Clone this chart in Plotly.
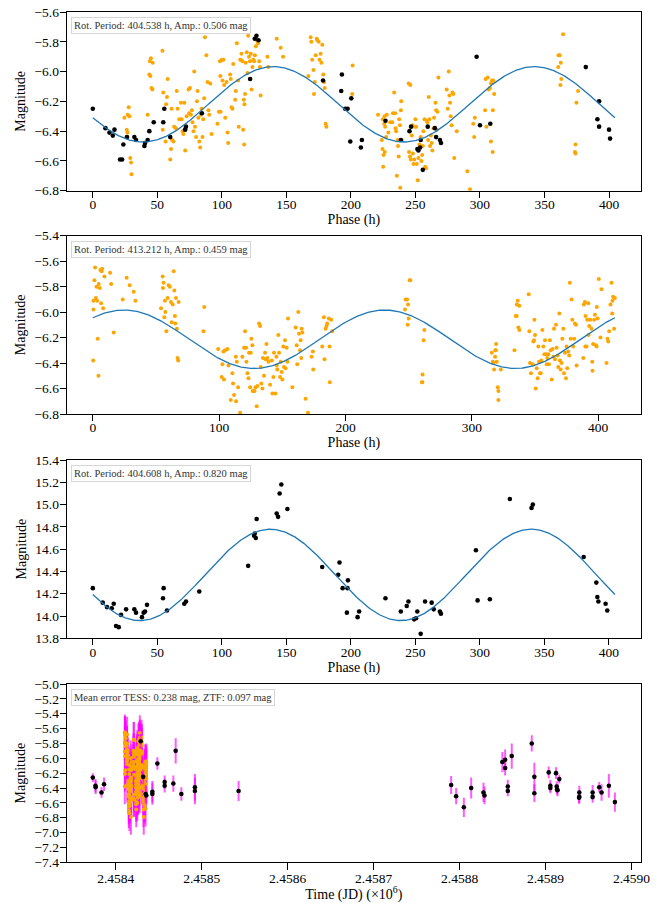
import numpy as np
import plotly.graph_objects as go

# ---------------------------------------------------------------- data ---
# Panel 1: TESS photometry folded on 404.538 h
p1_tess_phase = [
    24.5, 27.8, 27.0, 28.4, 26.3, 26.8, 26.0, 29.0, 29.6, 30.0,
    42.5, 43.8, 44.6, 45.0, 44.2, 46.4, 45.5, 46.2,
    54.0, 54.2, 56.4, 54.6, 58.0, 57.5, 56.8, 60.0, 60.6, 61.5, 62.5, 61.0,
    63.0, 64.4, 65.0, 65.7, 67.0, 68.3, 68.8, 69.6, 70.2, 70.9,
    71.6, 72.0, 72.7, 74.2, 74.6, 75.3, 76.0, 76.8, 77.3, 78.0,
    78.6, 79.2, 80.0, 80.7, 81.2, 81.8, 82.5, 83.2, 83.8, 84.3,
    85.0, 85.6, 86.3, 86.9, 88.0, 88.9, 89.6, 90.2, 91.0, 92.0,
    96.6, 97.7, 98.5, 98.8, 99.0, 100.0, 100.5, 101.2, 101.8, 102.6,
    103.6, 104.4, 104.9, 106.4, 106.9, 107.5, 108.2, 108.8, 110.3, 110.8,
    111.6, 112.6, 113.1, 114.2, 114.7, 115.2, 116.0, 116.5, 117.0, 117.5,
    118.0, 117.3, 118.5, 119.3, 119.8, 120.4, 121.0, 121.7, 122.4, 123.0,
    123.7, 124.4, 125.0, 125.6, 126.3, 127.0, 128.0, 128.9, 129.5, 130.0,
    135.3, 136.0, 142.5, 145.6, 147.4,
    167.0, 168.8, 169.3, 170.0, 171.0, 171.4, 172.0, 172.7, 173.5, 174.0,
    175.0, 175.6, 176.5, 177.1, 177.8, 178.6, 179.2, 180.4, 181.0, 179.7,
    201.3, 201.0, 221.0, 224.7, 225.8, 226.5, 226.0, 227.8, 229.0, 230.4,
    232.0, 224.0, 224.5, 225.3, 225.0, 226.2, 227.3, 232.5, 233.5, 234.3,
    234.6, 235.0, 235.6, 236.3, 236.5, 237.0, 237.4, 238.0, 238.2, 238.7,
    239.0, 239.4, 244.8, 246.0, 245.0, 245.8, 246.4, 247.2, 247.7, 248.0,
    248.5, 249.0, 249.5, 250.0, 250.5, 251.0, 251.8, 252.3, 253.0, 254.0,
    254.6, 255.2, 255.7, 256.2, 257.0, 257.5, 258.2, 258.8, 259.3, 259.8,
    260.3, 260.8, 261.3, 262.0, 262.6, 263.1, 264.0, 264.4, 265.5, 266.0,
    266.5, 267.0, 267.8, 274.2, 275.0, 275.8, 276.3, 276.8, 277.3, 278.0,
    278.6, 279.4, 280.0, 282.0, 290.2, 292.3, 294.8, 296.0, 295.5,
    304.0, 305.0, 304.4, 306.0, 306.7, 307.7, 308.5, 309.3, 310.0, 308.5,
    309.8, 310.3, 311.0, 360.6, 360.8, 361.8, 362.6, 364.4, 363.0, 362.3,
    374.7, 376.0, 374.0, 373.6, 374.0,
]
p1_tess_mag = [
    -6.31, -6.24, -6.29, -6.30, -6.39, -6.41, -6.44, -6.58, -6.61, -6.69,
    -6.29, -6.02, -6.03, -5.91, -5.93, -5.94, -6.11, -6.12,
    -5.86, -6.39, -6.47, -6.14, -6.05, -6.17, -6.22, -6.59, -6.52, -6.46, -6.47, -6.25,
    -6.37, -6.38, -6.13, -6.25, -6.32, -6.21, -6.32, -6.40, -6.42, -6.21,
    -6.53, -6.39, -6.30, -6.12, -6.28, -6.11, -6.29, -6.26, -6.34, -6.40,
    -6.00, -6.37, -6.44, -6.20, -6.13, -6.31, -6.47, -6.51, -6.29, -6.25,
    -6.44, -6.32, -6.18, -5.77, -5.89, -6.07, -6.26, -6.29, -6.08, -6.42,
    -6.35, -6.27, -5.93, -6.03, -6.27, -5.92, -6.06, -5.92, -6.09, -6.31,
    -6.07, -6.41, -6.48, -6.02, -6.05, -6.24, -6.25, -5.95, -6.19, -6.13,
    -5.81, -6.06, -6.37, -5.92, -5.92, -5.88, -5.93, -6.39, -6.19, -6.22,
    -6.15, -6.49, -5.94, -5.87, -6.01, -5.76, -5.90, -5.93, -5.88, -6.12,
    -5.97, -5.92, -5.93, -5.89, -5.83, -5.79, -5.81, -5.93, -5.97, -6.16,
    -5.90, -5.97, -5.78, -5.84, -5.90,
    -6.03, -5.77, -5.80, -5.92, -5.99, -6.15, -6.07, -5.89, -5.78, -5.79,
    -5.80, -5.92, -5.88, -5.94, -5.82, -6.02, -6.07, -6.35, -6.37, -6.11,
    -5.96, -6.15, -6.29, -6.32, -6.35, -6.37, -6.30, -6.29, -6.41, -6.34,
    -6.34, -6.46, -6.52, -6.56, -6.64, -6.54, -6.44, -6.28, -6.14, -6.28,
    -6.38, -6.40, -6.70, -6.46, -6.50, -6.57, -6.32, -6.36, -6.78, -6.26,
    -6.20, -6.46, -6.08, -6.09, -6.54, -6.57, -6.59, -6.43, -6.36, -6.55,
    -6.62, -6.59, -6.37, -6.32, -6.37, -6.62, -6.73, -6.58, -6.49, -6.44,
    -6.60, -6.56, -6.50, -6.40, -6.32, -6.64, -6.65, -6.33, -6.34, -6.46,
    -6.17, -6.32, -6.50, -6.43, -6.48, -6.53, -6.38, -6.31, -6.21, -6.26,
    -6.39, -6.27, -6.04, -6.12, -6.25, -6.00, -6.16, -6.21, -6.30, -6.36,
    -6.14, -6.15, -6.58, -6.40, -6.67, -6.79, -6.35, -6.31, -6.44,
    -6.26, -6.37, -6.05, -6.04, -6.12, -6.11, -6.08, -6.06, -6.26, -6.47,
    -6.54, -6.06, -6.15, -5.97, -5.89, -5.89, -5.94, -5.75, -6.05, -6.09,
    -6.21, -6.13, -6.49, -6.54, -6.55,
]

# Panel 1: ZTF photometry (shifted to the TESS scale) folded on 404.538 h
p1_ztf_phase = [
    0.0, 9.8, 12.9, 15.5, 16.8, 21.1, 22.7, 23.7, 26.5, 32.2,
    33.5, 40.0, 40.5, 42.5, 43.8, 47.2, 54.6, 55.4, 60.0, 72.2,
    71.5, 84.5, 121.9, 125.5, 126.8, 128.4, 178.4, 193.0, 192.5, 195.6,
    197.4, 200.3, 199.5, 208.5, 207.7, 226.8, 238.7, 245.4, 246.6, 251.5,
    252.3, 253.6, 254.1, 255.7, 259.5, 265.0, 266.0, 269.0, 269.8, 297.4,
    300.0, 308.0, 382.0, 392.3, 391.0, 392.3, 400.0, 400.8,
]
p1_ztf_mag = [
    -6.25, -6.38, -6.41, -6.43, -6.39, -6.59, -6.59, -6.49, -6.44, -6.44,
    -6.46, -6.50, -6.48, -6.46, -6.40, -6.34, -6.34, -6.25, -6.44, -6.37,
    -6.39, -6.28, -6.05, -5.78, -5.76, -5.79, -6.06, -6.02, -6.13, -6.25,
    -6.25, -6.18, -6.47, -6.46, -6.51, -6.33, -6.46, -6.40, -6.37, -6.52,
    -6.53, -6.51, -6.46, -6.66, -6.37, -6.38, -6.44, -6.46, -6.48, -5.90,
    -6.36, -6.35, -5.97, -6.20, -6.32, -6.37, -6.39, -6.45,
]

# Panel 2: TESS photometry folded on 413.212 h
p2_tess_phase = [
    0.5, 0.5, 0.3, 1.8, 1.3, 2.4, 3.4, 2.9, 3.9, 4.5,
    4.7, 5.5, 6.0, 6.6, 7.4, 8.2, 9.2, 7.0, 13.7, 14.5,
    16.6, 23.7, 26.8, 29.2, 32.4, 33.7,
    54.0, 55.3, 56.0, 55.5, 57.1, 57.4, 56.6, 58.2, 59.2, 60.0,
    61.0, 61.8, 62.4, 63.2, 64.0, 64.5, 65.0, 65.8, 66.6, 65.3,
    67.1, 67.6, 67.9, 88.2, 87.6,
    99.2, 102.6, 103.4, 102.0, 103.8, 104.7, 106.6, 107.4, 109.2, 110.5,
    111.0, 111.8, 113.2, 114.0, 115.0, 113.4, 116.6, 118.4, 119.7, 120.5,
    121.3, 121.6, 122.4, 123.2, 123.7, 124.5, 125.0, 125.5, 126.3, 126.5,
    127.1, 128.0, 128.8, 129.7, 130.3, 131.6, 132.4, 132.9, 133.4, 134.2,
    134.7, 135.5, 136.3, 136.8, 137.4, 138.2, 139.0, 140.3, 141.6, 142.1,
    142.9, 143.4, 144.5, 145.3, 145.6, 146.0, 146.8, 147.4, 148.2, 148.7,
    149.5, 150.0, 150.8, 151.3, 152.1, 152.6, 153.4, 154.0, 154.5, 157.9,
    160.5, 161.3, 161.8, 162.6, 163.2, 164.0, 164.5, 165.3, 165.8, 165.0,
    168.4, 170.3, 173.2, 174.2, 174.5, 181.6, 182.9, 183.4, 184.2, 185.0,
    185.5, 186.8, 187.4, 187.6, 188.7, 189.5,
    247.1, 247.6, 248.7, 249.5, 250.0, 249.2, 250.8, 251.3, 262.4, 261.8,
    261.0, 260.5, 260.8,
    315.8, 317.1, 317.6, 318.4, 318.9, 319.2, 318.6, 319.7, 316.6, 322.9,
    320.5, 321.0, 321.0,
    333.7, 334.7, 335.5, 336.3, 335.6, 336.8, 337.6, 337.5, 345.0, 345.5,
    346.0, 346.8, 348.2, 348.7, 349.2, 349.5, 350.0, 350.5, 351.3, 352.1,
    352.6, 353.2, 353.9, 354.5, 355.0, 355.8, 356.6, 357.4, 357.9, 358.7,
    359.2, 359.7, 360.5, 361.0, 361.8, 362.4, 363.2, 363.9, 364.5, 365.0,
    365.8, 366.6, 367.1, 367.9, 368.4, 369.2, 369.7, 370.3, 371.0, 371.6,
    372.4, 372.9, 373.7, 374.5, 375.0, 375.5, 376.3, 377.1, 377.6, 378.2,
    378.9, 379.5, 380.3, 381.0, 381.6, 382.4, 382.9, 388.2, 388.7, 389.5,
    389.8, 390.0, 390.8, 391.3, 392.1, 392.4, 392.9, 393.7, 394.7, 395.3,
    395.5, 396.0, 396.8, 397.4, 398.2, 398.7, 398.9, 399.5, 400.5, 401.8,
    402.6, 406.6, 407.4, 407.9, 408.7, 409.7, 410.5, 411.1, 411.3, 411.8,
    412.6, 413.2,
]
p2_tess_mag = [
    -5.98, -5.91, -6.38, -5.65, -5.75, -5.89, -5.91, -5.80, -6.21, -6.50,
    -5.78, -5.81, -5.67, -5.93, -5.66, -5.97, -5.72, -5.68, -5.69, -5.78,
    -6.16, -5.90, -5.73, -5.79, -5.84, -5.91,
    -5.97, -5.72, -5.77, -5.81, -5.91, -6.00, -6.04, -6.15, -5.89, -5.79,
    -5.80, -5.92, -6.08, -5.94, -5.68, -5.83, -6.03, -5.89, -6.13, -6.09,
    -6.36, -6.38, -5.92, -5.96, -6.15,
    -6.29, -6.41, -6.31, -6.51, -6.53, -6.30, -6.29, -6.42, -6.69, -6.48,
    -6.56, -6.65, -6.35, -6.39, -6.59, -6.70, -6.79, -6.35, -6.28, -6.15,
    -6.28, -6.39, -6.48, -6.52, -6.32, -6.59, -6.32, -6.21, -6.26, -6.62,
    -6.62, -6.62, -6.59, -6.74, -6.58, -6.09, -6.11, -6.43, -6.56, -6.60,
    -6.36, -6.50, -6.32, -6.37, -6.25, -6.36, -6.39, -6.57, -6.38, -6.64,
    -6.51, -6.32, -6.64, -6.35, -6.42, -6.45, -6.18, -6.32, -6.51, -6.39,
    -6.47, -6.53, -6.27, -6.43, -6.22, -6.44, -6.28, -6.39, -6.05, -6.59,
    -6.12, -6.26, -6.41, -6.00, -6.17, -6.30, -6.22, -6.13, -6.16, -6.36,
    -6.68, -6.79, -6.35, -6.31, -6.45, -6.27, -6.04, -6.37, -6.13, -6.11,
    -6.09, -6.05, -6.27, -6.55, -6.06, -6.15,
    -5.98, -5.90, -5.90, -5.94, -6.05, -6.10, -5.75, -5.75, -6.14, -6.22,
    -6.49, -6.55, -6.55,
    -6.32, -6.40, -6.45, -6.35, -6.30, -6.25, -6.30, -6.39, -6.39, -6.45,
    -6.59, -6.62, -6.69,
    -6.30, -6.03, -6.03, -5.91, -5.94, -6.12, -6.14, -5.95, -5.86, -6.15,
    -6.40, -6.48, -6.41, -6.23, -6.22, -6.06, -6.18, -6.60, -6.44, -6.52,
    -6.27, -6.39, -6.48, -6.48, -6.38, -6.14, -6.27, -6.33, -6.22, -6.33,
    -6.41, -6.36, -6.33, -6.41, -6.22, -6.30, -6.53, -6.29, -6.35, -6.13,
    -6.37, -6.10, -6.28, -6.34, -6.43, -6.01, -6.38, -6.45, -6.40, -6.21,
    -6.13, -6.48, -6.32, -6.52, -6.27, -6.44, -6.31, -6.34, -5.77, -6.21,
    -5.90, -6.06, -6.27, -6.21, -6.09, -6.10, -6.42, -6.36, -5.94, -5.92,
    -6.27, -6.03, -6.27, -6.06, -5.93, -6.18, -6.11, -6.06, -6.13, -6.39,
    -6.46, -6.25, -6.06, -6.02, -6.26, -6.27, -5.96, -6.05, -5.74, -6.20,
    -5.82, -6.40, -6.21, -6.23, -6.15, -5.94, -5.77, -6.01, -5.91, -5.88,
    -6.13, -5.89,
]

# Panel 3: ZTF apparent magnitudes folded on 404.608 h
p3_ztf_phase = [
    0.0, 7.7, 11.0, 14.7, 16.2, 18.0, 20.1, 21.9, 25.8, 32.2,
    33.5, 38.1, 39.4, 40.5, 42.0, 54.4, 54.9, 57.5, 70.9, 72.2,
    82.5, 120.4, 125.0, 125.5, 126.3, 127.0, 142.5, 143.6, 144.8, 146.1,
    150.8, 177.8, 190.2, 191.2, 193.6, 196.9, 197.7, 197.4, 205.2, 206.4,
    226.8, 238.7, 243.3, 244.6, 249.0, 250.5, 251.5, 254.1, 257.5, 262.6,
    264.2, 269.0, 269.8, 296.9, 298.2, 307.7, 323.2, 340.0, 341.0, 380.4,
    390.2, 391.0, 391.8, 397.4, 398.7,
]
p3_ztf_mag = [
    14.25, 14.12, 14.08, 14.07, 14.11, 13.91, 13.90, 14.01, 14.06, 14.06,
    14.03, 13.99, 14.03, 14.04, 14.10, 14.16, 14.25, 14.05, 14.11, 14.13,
    14.22, 14.45, 14.72, 14.74, 14.70, 14.87, 14.92, 14.89, 15.10, 15.18,
    14.96, 14.44, 14.37, 14.48, 14.25, 14.03, 14.32, 14.25, 13.99, 14.04,
    14.16, 14.04, 14.09, 14.13, 13.97, 13.98, 14.04, 13.84, 14.13, 14.12,
    14.06, 14.04, 14.02, 14.59, 14.14, 14.15, 15.05, 14.97, 15.00, 14.53,
    14.30, 14.17, 14.13, 14.11, 14.05,
]

# Panel 4: ZTF light curve with uncertainties
ztf_jd = [
    2458373.3, 2458376.4, 2458376.6, 2458383.4, 2458386.4, 2458429.0, 2458431.9, 2458434.8, 2458435.6, 2458442.6,
    2458442.6, 2458448.4, 2458456.9, 2458456.9, 2458467.0, 2458469.7, 2458476.3, 2458492.1, 2458492.1, 2458542.9,
    2458790.2, 2458796.0, 2458805.0, 2458813.5, 2458827.8, 2458829.0, 2458849.8, 2458853.0, 2458853.0, 2458856.1,
    2458856.1, 2458860.7, 2458884.0, 2458887.0, 2458887.0, 2458903.7, 2458905.6, 2458905.6, 2458912.2, 2458913.0,
    2458913.4, 2458914.0, 2458916.0, 2458939.3, 2458939.3, 2458939.0, 2458954.8, 2458954.8, 2458962.5, 2458965.2,
    2458973.7, 2458980.7,
]
ztf_mag = [
    -6.26, -6.37, -6.39, -6.46, -6.35, -5.77, -6.25, -6.48, -6.50, -6.45,
    -6.48, -6.07, -6.32, -6.37, -6.34, -5.90, -6.48, -6.39, -6.44, -6.44,
    -6.36, -6.51, -6.66, -6.40, -6.46, -6.50, -6.05, -6.02, -6.13, -6.38,
    -6.44, -5.97, -5.80, -6.25, -6.47, -6.19, -6.37, -6.40, -6.20, -6.38,
    -6.42, -6.43, -6.28, -6.46, -6.52, -6.53, -6.46, -6.52, -6.39, -6.46,
    -6.37, -6.59,
]
ztf_err = [
    0.06, 0.09, 0.09, 0.07, 0.09, 0.10, 0.10, 0.12, 0.12, 0.145,
    0.145, 0.085, 0.09, 0.09, 0.11, 0.17, 0.09, 0.18, 0.18, 0.135,
    0.12, 0.11, 0.13, 0.14, 0.13, 0.12, 0.135, 0.14, 0.10, 0.09,
    0.07, 0.17, 0.11, 0.19, 0.12, 0.08, 0.08, 0.07, 0.08, 0.07,
    0.07, 0.08, 0.06, 0.09, 0.09, 0.08, 0.10, 0.08, 0.07, 0.11,
    0.16, 0.13,
]

# TESS: sector start (phase zero of the 413.212 h fold) and mean uncertainty
tess_epoch_jd = 2458410.5
tess_mean_err = 0.238
ztf_mean_err = 0.097

# Sinusoidal fits (double-peaked: two minima per rotation)
fit_period = [404.538, 413.212, 404.608]
fit_amp = [0.506, 0.459, 0.820]
fit_mean = [-6.220, -6.213, 14.369]
fit_peak = [140.0, 24.5, 137.5]

# Axis ticks
phase_ticks_fine = [0, 50, 100, 150, 200, 250, 300, 350, 400]
phase_ticks_coarse = [0, 100, 200, 300, 400]
time_tick_jd = [2458400, 2458500, 2458600, 2458700, 2458800, 2458900, 2459000]
time_tick_text = ["2.4584", "2.4585", "2.4586", "2.4587", "2.4588", "2.4589", "2.4590"]

for a, b in [(p1_tess_phase, p1_tess_mag), (p1_ztf_phase, p1_ztf_mag),
             (p2_tess_phase, p2_tess_mag), (p3_ztf_phase, p3_ztf_mag),
             (ztf_jd, ztf_mag), (ztf_jd, ztf_err)]:
    if len(a) != len(b):
        raise ValueError("length mismatch")

# ------------------------------------------------------------- styling ---
W, H = 663, 903
FONT = "Liberation Serif"
ORANGE = "#ffa500"
BLACK = "#000000"
BLUE = "#1f77b4"
MAGENTA = "rgba(255,0,255,0.65)"
X_LEFT, X_RIGHT = 66.7, 641.0
PANELS = [(12.0, 190.7), (235.7, 414.0), (460.0, 638.3), (684.0, 862.3)]
ORANGE_SIZE = 4.0
BLACK_SIZE = 4.6


def sine_model(k):
    x = np.linspace(0.0, fit_period[k], 500)
    y = fit_mean[k] + 0.5 * fit_amp[k] * np.cos(4.0 * np.pi * (x - fit_peak[k]) / fit_period[k])
    return x, y


def padded(lo, hi, frac=0.05):
    span = hi - lo
    return [lo - frac * span, hi + frac * span]


fig = go.Figure()

# Panel 1
fig.add_trace(go.Scatter(x=p1_tess_phase, y=p1_tess_mag, mode="markers",
                         marker=dict(color=ORANGE, size=ORANGE_SIZE), xaxis="x", yaxis="y"))
fig.add_trace(go.Scatter(x=p1_ztf_phase, y=p1_ztf_mag, mode="markers",
                         marker=dict(color=BLACK, size=BLACK_SIZE), xaxis="x", yaxis="y"))
sx, sy = sine_model(0)
fig.add_trace(go.Scatter(x=sx, y=sy, mode="lines", line=dict(color=BLUE, width=1.3),
                         xaxis="x", yaxis="y"))

# Panel 2
fig.add_trace(go.Scatter(x=p2_tess_phase, y=p2_tess_mag, mode="markers",
                         marker=dict(color=ORANGE, size=ORANGE_SIZE), xaxis="x2", yaxis="y2"))
sx, sy = sine_model(1)
fig.add_trace(go.Scatter(x=sx, y=sy, mode="lines", line=dict(color=BLUE, width=1.3),
                         xaxis="x2", yaxis="y2"))

# Panel 3
fig.add_trace(go.Scatter(x=p3_ztf_phase, y=p3_ztf_mag, mode="markers",
                         marker=dict(color=BLACK, size=BLACK_SIZE), xaxis="x3", yaxis="y3"))
sx, sy = sine_model(2)
fig.add_trace(go.Scatter(x=sx, y=sy, mode="lines", line=dict(color=BLUE, width=1.3),
                         xaxis="x3", yaxis="y3"))

# Panel 4: TESS epochs unfolded from the 413.212 h phases (the sector spans
# about one and a half rotations, so early phases recur in the second cycle)
phase_arr = np.asarray(p2_tess_phase)
order = np.argsort(phase_arr, kind="stable")
cycle = np.zeros(len(phase_arr))
early = [i for i in order if phase_arr[i] < 200.0]
for n, i in enumerate(early):
    cycle[i] = n % 2
tess_jd = tess_epoch_jd + (phase_arr + cycle * fit_period[1]) / 24.0
tess_err = np.full(len(phase_arr), tess_mean_err)

fig.add_trace(go.Scatter(x=tess_jd, y=p2_tess_mag, mode="markers",
                         marker=dict(color=ORANGE, size=ORANGE_SIZE),
                         error_y=dict(type="data", array=tess_err, color=MAGENTA,
                                      thickness=2.0, width=0),
                         xaxis="x4", yaxis="y4"))
fig.add_trace(go.Scatter(x=ztf_jd, y=ztf_mag, mode="markers",
                         marker=dict(color=BLACK, size=BLACK_SIZE),
                         error_y=dict(type="data", array=ztf_err, color=MAGENTA,
                                      thickness=2.0, width=0),
                         xaxis="x4", yaxis="y4"))

# ---------------------------------------------------------------- axes ---
axis_common = dict(showline=True, linecolor="black", linewidth=1.1, mirror=True,
                   ticks="outside", ticklen=6, tickwidth=1.1, tickcolor="black",
                   showgrid=False, zeroline=False, automargin=False,
                   tickfont=dict(family=FONT, size=13.5, color="black"))

x_ranges = [padded(0, fit_period[0]), padded(0, fit_period[1]),
            padded(0, fit_period[2]), padded(min(ztf_jd), max(ztf_jd))]
y_ranges = [[-6.8, -5.6], [-6.8, -5.4], [13.8, 15.4], [-7.4, -5.0]]
y_ticks = [list(np.round(np.arange(-6.8, -5.59, 0.2), 1)),
           list(np.round(np.arange(-6.8, -5.39, 0.2), 1)),
           list(np.round(np.arange(13.8, 15.41, 0.2), 1)),
           list(np.round(np.arange(-7.4, -4.99, 0.2), 1))]
x_tickvals = [phase_ticks_fine, phase_ticks_coarse, phase_ticks_fine, time_tick_jd]
x_titles = ["Phase (h)", "Phase (h)", "Phase (h)", "Time (JD) (×10<sup>6</sup>)"]

layout_axes = {}
for i, (top, bot) in enumerate(PANELS):
    sfx = "" if i == 0 else str(i + 1)
    xa = dict(axis_common)
    xa.update(domain=[X_LEFT / W, X_RIGHT / W], anchor="y" + sfx,
              range=x_ranges[i], tickvals=x_tickvals[i], ticklabelstandoff=-5,
              title=dict(text=x_titles[i], font=dict(family=FONT, size=14, color="black"),
                         standoff=1))
    if i == 3:
        xa.update(ticktext=time_tick_text, ticklen=7, ticklabelstandoff=-4,
                  title=dict(text=x_titles[i], font=dict(family=FONT, size=14, color="black"),
                             standoff=4))
    ya = dict(axis_common)
    ya.update(domain=[1 - bot / H, 1 - top / H], anchor="x" + sfx,
              range=y_ranges[i], tickvals=y_ticks[i], tickformat=".1f",
              ticklabelstandoff=-2,
              title=dict(text="Magnitude", font=dict(family=FONT, size=14, color="black"),
                         standoff=5))
    layout_axes["xaxis" + sfx] = xa
    layout_axes["yaxis" + sfx] = ya

# ------------------------------------------------------- annotations ---
box_texts = [
    f"Rot. Period: {fit_period[0]:.3f} h, Amp.: {fit_amp[0]:.3f} mag",
    f"Rot. Period: {fit_period[1]:.3f} h, Amp.: {fit_amp[1]:.3f} mag",
    f"Rot. Period: {fit_period[2]:.3f} h, Amp.: {fit_amp[2]:.3f} mag",
    f"Mean error TESS: {tess_mean_err:.3f} mag, ZTF: {ztf_mean_err:.3f} mag",
]
annotations = []
for i, txt in enumerate(box_texts):
    sfx = "" if i == 0 else str(i + 1)
    annotations.append(dict(
        text=txt, xref=f"x{sfx} domain", yref=f"y{sfx} domain",
        x=0.0075, y=0.972, xanchor="left", yanchor="top", showarrow=False,
        font=dict(family=FONT, size=10.5, color="#333333"),
        bgcolor="rgba(255,255,255,0.8)", bordercolor="#d6d6d6", borderwidth=1,
        borderpad=2, align="left"))

fig.update_layout(
    width=W, height=H, margin=dict(l=0, r=0, t=0, b=0),
    paper_bgcolor="white", plot_bgcolor="white", showlegend=False,
    font=dict(family=FONT, size=13.5, color="black"),
    annotations=annotations, **layout_axes)

fig.write_html("out.html")
